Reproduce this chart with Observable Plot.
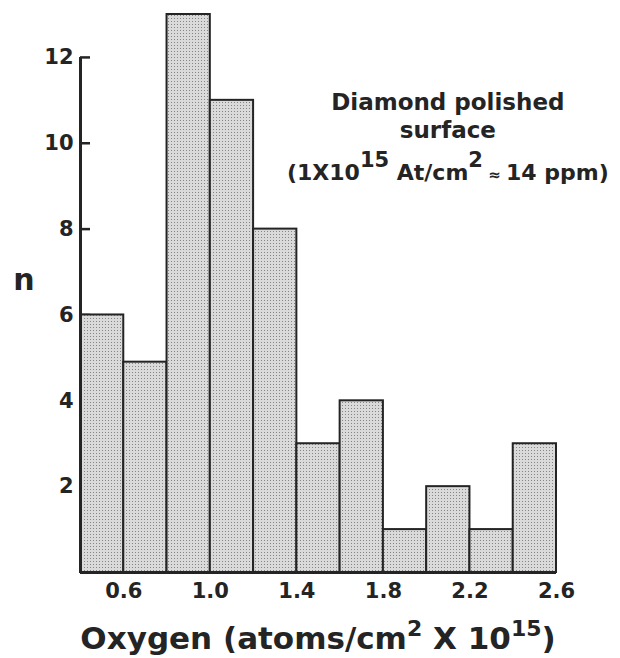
<!DOCTYPE html>
<html><head><meta charset="utf-8">
<script src="https://cdn.jsdelivr.net/npm/d3@7"></script>
<script src="https://cdn.jsdelivr.net/npm/@observablehq/plot@0.6"></script>
<style>body{margin:0;background:#fff}</style>
</head><body><div id="chart"></div>
<script>
// ---- data ----
const binStarts = [0.4, 0.6, 0.8, 1.0, 1.2, 1.4, 1.6, 1.8, 2.0, 2.2, 2.4];
const binWidth = 0.2;
const counts = [6, 4.9, 13, 11, 8, 3, 4, 1, 2, 1, 3];
const xTicks = [0.6, 1.0, 1.4, 1.8, 2.2, 2.6];
const yTicks = [2, 4, 6, 8, 10, 12];
const xDomain = [0.4, 2.6];
const yDomain = [0, 13];
const yLabel = "n";
const noteLine1 = "Diamond polished";
const noteLine2 = "surface";
const ink = "#242424";

const bins = binStarts.map((s, i) => ({x1: s, x2: +(s + binWidth).toFixed(2), n: counts[i]}));

const chart = Plot.plot({
  width: 620,
  height: 658,
  marginLeft: 80,
  marginRight: 64,
  marginTop: 14,
  marginBottom: 86,
  style: {fontFamily: "DejaVu Sans", fontWeight: "bold", color: ink, background: "white", overflow: "visible"},
  x: {domain: xDomain, axis: null},
  y: {domain: yDomain, axis: null},
  marks: [
    Plot.axisY({ticks: yTicks, tickSize: 10, dx: 10, tickFormat: () => "", label: null, strokeWidth: 2.5}),
    Plot.rect(bins, {x1: "x1", x2: "x2", y1: 0, y2: "n", fill: "url(#stip)", stroke: ink, strokeWidth: 2}),
    Plot.ruleX([xDomain[0]], {y1: 0, y2: yTicks[yTicks.length - 1], stroke: ink, strokeWidth: 3}),
    Plot.ruleY([0], {stroke: ink, strokeWidth: 3}),
    Plot.axisY({ticks: yTicks, tickSize: 0, tickPadding: 7, fontSize: 21, label: null}),
    Plot.axisX({ticks: xTicks, tickSize: 0, tickPadding: 11, fontSize: 21, label: null, tickFormat: d3.format(".1f")})
  ]
});

document.getElementById("chart").appendChild(chart);

const svg = d3.select(chart);
const defs = svg.insert("defs", ":first-child");
const pat = defs.append("pattern").attr("id", "stip").attr("width", 3).attr("height", 3).attr("patternUnits", "userSpaceOnUse");
pat.append("rect").attr("width", 3).attr("height", 3).attr("fill", "#dadada");
pat.append("rect").attr("width", 1).attr("height", 1).attr("fill", "#858585");

const xs = chart.scale("x");
const g = svg.append("g").attr("fill", ink).attr("font-family", "DejaVu Sans").attr("font-weight", "bold");

// y label
g.append("text").attr("x", 24).attr("y", 290).attr("text-anchor", "middle").attr("font-size", 30).text(yLabel);

// annotation
const cx = xs.apply(2.1);
g.append("text").attr("x", cx).attr("y", 110).attr("text-anchor", "middle").attr("font-size", 23).text(noteLine1);
g.append("text").attr("x", cx).attr("y", 138).attr("text-anchor", "middle").attr("font-size", 23).text(noteLine2);
const t3 = g.append("text").attr("x", cx).attr("y", 180).attr("text-anchor", "middle").attr("font-size", 22);
t3.append("tspan").text("(1X10");
t3.append("tspan").attr("dy", -13).attr("font-size", 21).text("15");
t3.append("tspan").attr("dy", 13).text(" At/cm");
t3.append("tspan").attr("dy", -13).attr("font-size", 21).text("2");
t3.append("tspan").attr("dy", 13).attr("font-size", 15).text(" \u2248 ");
t3.append("tspan").text("14 ppm)");

// x title
const tt = g.append("text").attr("x", 318).attr("y", 649).attr("text-anchor", "middle").attr("font-size", 31);
tt.append("tspan").text("Oxygen (atoms/cm");
tt.append("tspan").attr("dy", -13).attr("font-size", 22).text("2");
tt.append("tspan").attr("dy", 13).text(" X 10");
tt.append("tspan").attr("dy", -13).attr("font-size", 22).text("15");
tt.append("tspan").attr("dy", 13).text(")");
</script>
</body></html>
